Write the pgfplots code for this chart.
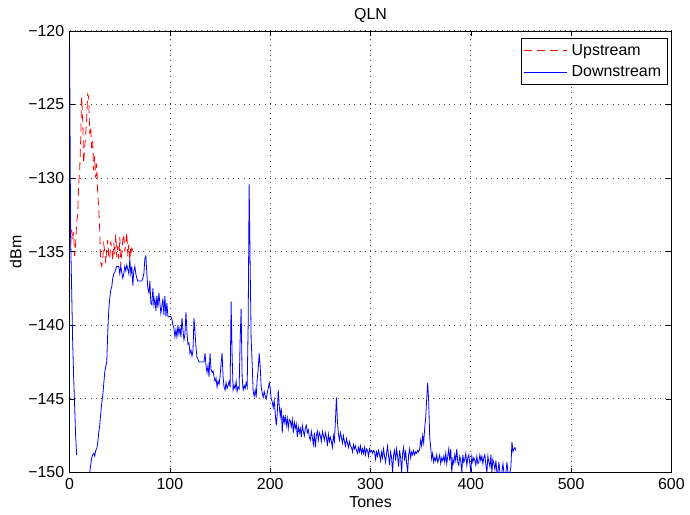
\documentclass[border=0pt]{standalone}
\usepackage{fontspec}
\setmainfont{Liberation Sans}
\usepackage{pgfplots}
\pgfplotsset{compat=1.18}
\begin{document}
\fontsize{16}{19}\selectfont
\begin{tikzpicture}
\begin{axis}[
  width=605pt, height=444pt, scale only axis,
  xmin=0, xmax=600, ymin=-150, ymax=-120,
  xtick={0,100,200,300,400,500,600},
  xticklabels={0,100,200,300,400,500,600},
  ytick={-150,-145,-140,-135,-130,-125,-120},
  yticklabels={−150,−145,−140,−135,−130,−125,−120},
  grid=major,
  grid style={black!70, line width=0.8pt, dash pattern=on 0.8pt off 4.5pt},
  major tick length=5pt,
  tick align=inside,
  tick style={black, line width=0.5pt},
  axis line style={black, line width=0.6pt},
  title={QLN},
  title style={yshift=-3pt},
  xlabel={Tones}, ylabel={dBm},
  xlabel style={yshift=4pt},
  ylabel style={yshift=-4pt},
  unbounded coords=jump,
  legend cell align=left,
  legend style={at={(0.994,0.984)}, anchor=north east, draw=black, fill=white, line width=0.6pt,
    font=\fontsize{16}{19}\selectfont, inner xsep=2pt, inner ysep=2pt,
    nodes={inner xsep=4.5pt, inner ysep=4pt}},
  legend image code/.code={\draw[#1, line width=0.9pt] (0pt,0pt) -- (43pt,0pt);},
]
\addplot[red, line width=0.8pt, dash pattern=on 8pt off 5pt] coordinates {
(1,-134.5)(2,-133.5)(3,-134.2)(4,-133.7)(5,-135.3)(6,-134.5)(7,-133)(8,-132.5)(9,-130.5)
(10,-129.5)(11,-127.5)(12,-124.5)(13,-126)(14,-129)(15,-128)(16,-127)(17,-126)(18,-124.3)(19,-124.5)
(20,-127)(21,-126.5)(22,-128)(23,-127.5)(24,-129.5)(25,-128.5)(26,-130)(27,-129)(28,-131)(29,-132)
(30,-133.5)(31,-135.8)(32,-136)(33,-135.5)(34,-134.5)(35,-135)(36,-135.8)(37,-134.8)(38,-134.2)(39,-135.3)
(40,-135.5)(41,-134.3)(42,-134.8)(43,-135.6)(44,-134.4)(45,-135.2)(46,-133.8)(47,-135.4)(48,-134.6)(49,-135.5)
(50,-134)(51,-136)(52,-135.1)(53,-134.2)(54,-133.8)(55,-135)(56,-134.5)(57,-133.7)(58,-135.3)(59,-134.5)
(60,-135.6)(61,-134.6)(62,-135)(63,-134.8)
};
\addlegendentry{Upstream}
\addplot[blue, line width=0.8pt] coordinates {
(0,-121)(1,-134)(2,-137.5)(3,-141)(4,-143.5)(5,-145.5)(6,-147.5)(7,-148.8)(8,nan)
(20,-150)(21,-149.5)(22,-149)(23,-148.8)(24,-148.7)(25,-148.9)(26,-148.5)(27,-148.4)(28,-148)(29,-147.3)
(30,-146.8)(31,-146)(32,-145.3)(33,-144.8)(34,-144)(35,-143.2)(36,-142.8)(37,-142.5)(38,-140.5)(39,-139)
(40,-138.2)(41,-137.6)(42,-137.4)(43,-136.8)(44,-136.5)(45,-136.4)(46,-136.2)(47,-136)(48,-136)(49,-136)
(50,-136.5)(51,-136)(52,-136.4)(53,-136.8)(54,-136.5)(55,-136)(56,-136.3)(57,-135.9)(58,-136.2)(59,-136.5)
(60,-135.5)(61,-136.5)(62,-136)(63,-137.3)(64,-136.3)(65,-136)(66,-136.5)(67,-136.8)(68,-137)(69,-137)
(70,-137)(71,-137)(72,-137)(73,-136.8)(74,-136.5)(75,-135.5)(76,-135.3)(77,-136.5)(78,-137.5)(79,-137.8)
(80,-137)(81,-138.5)(82,-138.6)(83,-137.5)(84,-138.6)(85,-138.2)(86,-139)(87,-138)(88,-138.8)(89,-137.8)
(90,-138.5)(91,-139.2)(92,-138.7)(93,-138.2)(94,-139.3)(95,-138)(96,-139.4)(97,-138.5)(98,-139.4)(99,-139.4)
(100,-139.4)(101,-139.4)(102,-139.6)(103,-140)(104,-140.2)(105,-140.8)(106,-140.3)(107,-140.8)(108,-140)(109,-140.6)
(110,-140.2)(111,-140.8)(112,-139.5)(113,-140.3)(114,-141)(115,-140.6)(116,-139.1)(117,-140.5)(118,-141.3)(119,-141.2)
(120,-141.9)(121,-141.7)(122,-142.1)(123,-141.7)(124,-139.5)(125,-140.5)(126,-141.5)(127,-142.2)(128,-142.3)(129,-142.5)
(130,-142.5)(131,-142.5)(132,-142.5)(133,-142.5)(134,-142.5)(135,-141.9)(136,-142.8)(137,-143.2)(138,-142.7)(139,-143.5)
(140,-141.9)(141,-143)(142,-143.2)(143,-143.1)(144,-143.5)(145,-143.8)(146,-143.6)(147,-144.2)(148,-143.8)(149,-144)
(150,-143.5)(151,-142.6)(152,-141.9)(153,-143.5)(154,-144.2)(155,-144.4)(156,-143.9)(157,-144.3)(158,-144.1)(159,-143.8)
(160,-144.2)(161,-138.4)(162,-142)(163,-144.4)(164,-144.1)(165,-144.3)(166,-143.8)(167,-144.5)(168,-144.2)(169,-144.3)
(170,-141)(171,-138.9)(172,-143.5)(173,-144.4)(174,-144.1)(175,-144.3)(176,-143.9)(177,-144.2)(178,-140)(179,-130.4)
(180,-136)(181,-141)(182,-142.6)(183,-144.5)(184,-144.8)(185,-144.4)(186,-144.9)(187,-143.7)(188,-143)(189,-141.9)
(190,-142.8)(191,-144.2)(192,-144.6)(193,-144.9)(194,-144.5)(195,-144.8)(196,-145)(197,-144.6)(198,-144.3)(199,-143.9)
(200,-144.3)(201,-145)(202,-145.2)(203,-145.6)(204,-145.1)(205,-146)(206,-146.8)(207,-146)(208,-144.4)(209,-145.5)
(210,-146.2)(211,-145.6)(212,-147.3)(213,-146.1)(214,-146.6)(215,-146.2)(216,-146.8)(217,-146.3)(218,-147)(219,-146.4)
(220,-146.5)(221,-146.9)(222,-146.4)(223,-147.3)(224,-146.6)(225,-147)(226,-146.7)(227,-147.6)(228,-146.9)(229,-147.3)
(230,-147)(231,-147.6)(232,-146.8)(233,-147.2)(234,-147.5)(235,-147)(236,-146.8)(237,-147.3)(238,-147.1)(239,-147.6)
(240,-147.8)(241,-147.2)(242,-147.6)(243,-148.1)(244,-147.3)(245,-148.3)(246,-147.5)(247,-147.2)(248,-147.8)(249,-147.3)
(250,-147.5)(251,-147.9)(252,-147.2)(253,-147.5)(254,-147.8)(255,-147.3)(256,-147.6)(257,-148.2)(258,-147.4)(259,-147.9)
(260,-147.6)(261,-147.9)(262,-148.3)(263,-147.5)(264,-147.9)(265,-146.5)(266,-144.9)(267,-146.5)(268,-147.4)(269,-147.8)
(270,-147.3)(271,-147.6)(272,-148)(273,-147.5)(274,-147.9)(275,-148.2)(276,-147.7)(277,-148)(278,-148.3)(279,-147.9)
(280,-148.2)(281,-148.3)(282,-148.6)(283,-148.1)(284,-148.4)(285,-148.2)(286,-148.5)(287,-148.7)(288,-148.3)(289,-148.6)
(290,-148.2)(291,-148.7)(292,-148.4)(293,-148.7)(294,-148.3)(295,-148.8)(296,-148.4)(297,-148.5)(298,-148.9)(299,-148.4)
(300,-148.6)(301,-148.5)(302,-148.7)(303,-148.5)(304,-148.6)(305,-149.1)(306,-148.6)(307,-148.9)(308,-148.5)(309,-148.8)
(310,-149.2)(311,-148.6)(312,-149)(313,-148.4)(314,-148.9)(315,-149.3)(316,-148.7)(317,-148.2)(318,-148.9)(319,-149.5)
(320,-148.6)(321,-149)(322,-150)(323,-148.8)(324,-148.5)(325,-149.2)(326,-148.4)(327,-148.9)(328,-149.6)(329,-148.5)
(330,-149)(331,-150)(332,-148.7)(333,-148.3)(334,-149.2)(335,-148.5)(336,-149.4)(337,-150)(338,-148.8)(339,-148.4)
(340,-149)(341,-148.6)(342,-148.8)(343,-148.5)(344,-148.8)(345,-148.6)(346,-148.7)(347,-148.5)(348,-148.6)(349,-148.4)
(350,-147.8)(351,-148.2)(352,-147.5)(353,-148)(354,-147)(355,-146.3)(356,-145)(357,-143.9)(358,-145.2)(359,-147.6)
(360,-148.3)(361,-149.1)(362,-148.7)(363,-149.3)(364,-149)(365,-149.2)(366,-148.8)(367,-149.3)(368,-149.1)(369,-148.8)
(370,-149.4)(371,-149)(372,-149.2)(373,-148.9)(374,-149.3)(375,-148.7)(376,-149.4)(377,-148.9)(378,-148.4)(379,-149.2)
(380,-148.4)(381,-150)(382,-149.1)(383,-149.4)(384,-148.8)(385,-149.2)(386,-148.4)(387,-149.3)(388,-149.5)(389,-148.9)
(390,-149.2)(391,-150)(392,-148.8)(393,-149.3)(394,-149.1)(395,-148.7)(396,-149.5)(397,-149)(398,-148.8)(399,-149.4)
(400,-150)(401,-148.9)(402,-149.3)(403,-149)(404,-149.2)(405,-149.5)(406,-148.9)(407,-149.4)(408,-149.3)(409,-148.8)
(410,-149.2)(411,-148.9)(412,-149.4)(413,-149)(414,-148.8)(415,-149.5)(416,-150)(417,-148.9)(418,-149.3)(419,-149.6)
(420,-148.8)(421,-150)(422,-149.1)(423,-149.4)(424,-149.8)(425,-149.2)(426,-150)(427,-150)(428,-149.3)(429,-150)
(430,-150)(431,-150)(432,-149.4)(433,-150)(434,-150)(435,-150)(436,-149.3)(437,-150)(438,-150)(439,-150)
(440,-149.6)(441,-147.9)(442,-148.6)(443,-148.4)(444,-148.3)(445,-148.5)
};
\addlegendentry{Downstream}
\end{axis}
\path (current axis.south west) ++(-70pt,-42pt) rectangle ++(690pt,517pt);
\end{tikzpicture}
\end{document}
